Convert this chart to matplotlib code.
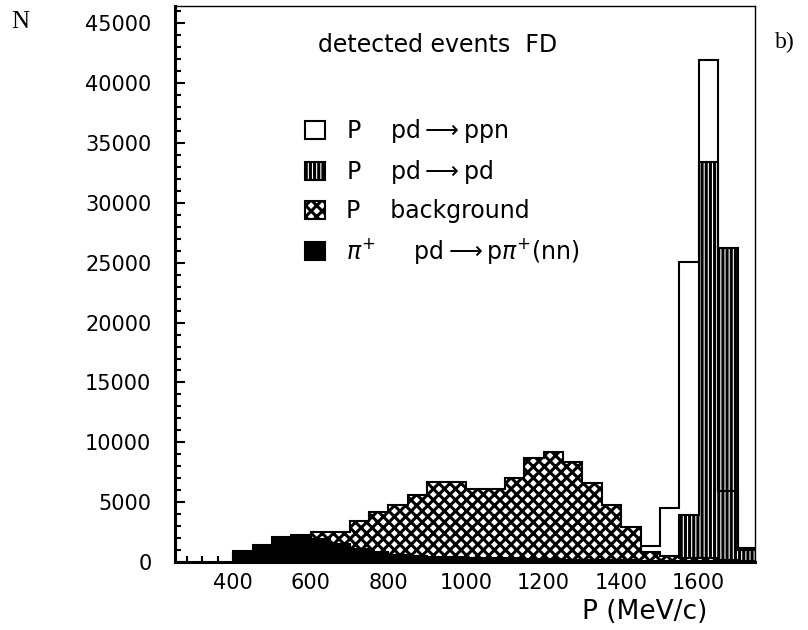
import numpy as np
import matplotlib
matplotlib.use('Agg')
import matplotlib.pyplot as plt
from matplotlib.ticker import MultipleLocator

# bin edges in MeV/c (50 MeV bins)
edges = [400, 450, 500, 550, 600, 650, 700, 750, 800, 850, 900, 950, 1000, 1050,
         1100, 1150, 1200, 1250, 1300, 1350, 1400, 1450, 1500, 1550, 1600, 1650,
         1700, 1750]

# P  pd -> ppn
ppn = [0, 0, 0, 0, 0, 0, 0, 0, 0, 0, 0, 0, 0, 0,
       0, 0, 0, 0, 0, 0, 0, 1300, 4500, 25100, 41950, 5900, 1150]
# P  pd -> pd
pdpd = [0, 0, 0, 0, 0, 0, 0, 0, 0, 0, 0, 0, 0, 0,
        0, 0, 0, 0, 0, 0, 0, 0, 0, 3930, 33440, 26200, 1000]
# P  background
bkg = [0, 200, 600, 1500, 2530, 2530, 3450, 4200, 4760, 5600, 6650, 6650, 6100, 6080,
       7000, 8650, 9210, 8380, 6570, 4760, 2950, 800, 500, 300, 300, 200, 100]
# pi+  pd -> p pi+ (nn)
piplus = [900, 1400, 2050, 2250, 1900, 1500, 1100, 800, 600, 500, 450, 400, 350, 300,
          300, 250, 250, 200, 200, 150, 150, 100, 100, 100, 50, 50, 0]

labels = [r'P    pd$\longrightarrow$ppn',
          r'P    pd$\longrightarrow$pd',
          r'P    background',
          r'$\pi^{+}$     pd$\longrightarrow$p$\pi^{+}$(nn)']

plt.rcParams['font.family'] = 'DejaVu Sans'
plt.rcParams['hatch.linewidth'] = 2.2

fig = plt.figure(figsize=(8.08, 6.3), dpi=100)
ax = fig.add_axes([0.2166, 0.1079, 0.7178, 0.8826])

h1 = ax.stairs(ppn, edges, fill=True, facecolor='white', edgecolor='black',
               linewidth=1.5, zorder=2)
h2 = ax.stairs(pdpd, edges, fill=True, facecolor='none', edgecolor='black',
               hatch='||||', linewidth=1.5, zorder=3)
h3 = ax.stairs(bkg, edges, fill=True, facecolor='white', edgecolor='black',
               hatch='xxx', linewidth=1.5, zorder=4)
h4 = ax.stairs(piplus, edges, fill=True, facecolor='black', edgecolor='black',
               linewidth=1.5, zorder=5)

ax.set_xlim(250, 1745)
ax.set_ylim(0, 46450)
ax.xaxis.set_major_locator(MultipleLocator(200))
ax.xaxis.set_minor_locator(MultipleLocator(40))
ax.yaxis.set_major_locator(MultipleLocator(5000))
ax.yaxis.set_minor_locator(MultipleLocator(1000))
ax.set_xticks([400, 600, 800, 1000, 1200, 1400, 1600])

ax.tick_params(which='both', direction='in', top=False, right=False,
               labelsize=15, width=1.5)
ax.tick_params(which='major', length=7)
ax.tick_params(which='minor', length=4)
ax.tick_params(axis='y', pad=17)
ax.tick_params(axis='x', pad=8)
for side in ['left', 'bottom']:
    ax.spines[side].set_linewidth(2.2)
for side in ['top', 'right']:
    ax.spines[side].set_linewidth(1.0)

ax.text(0.452, 0.930, 'detected events  FD', transform=ax.transAxes,
        ha='center', va='center', fontsize=17)
ax.legend([h1, h2, h3, h4], labels, loc='upper left',
          bbox_to_anchor=(0.224, 0.80), frameon=False, fontsize=17,
          handlelength=0.85, handleheight=0.85, handletextpad=0.9,
          labelspacing=0.55, borderpad=0, borderaxespad=0)

fig.text(20 / 808, 1 - 22 / 630, 'N', family='Liberation Serif', fontsize=18,
         ha='center', va='center')
fig.text(785 / 808, 1 - 42 / 630, 'b)', family='Liberation Serif', fontsize=17,
         ha='center', va='center')
fig.text(645 / 808, 1 - 612 / 630, 'P (MeV/c)', fontsize=19,
         ha='center', va='center')

fig.savefig('out.png', dpi=100)
